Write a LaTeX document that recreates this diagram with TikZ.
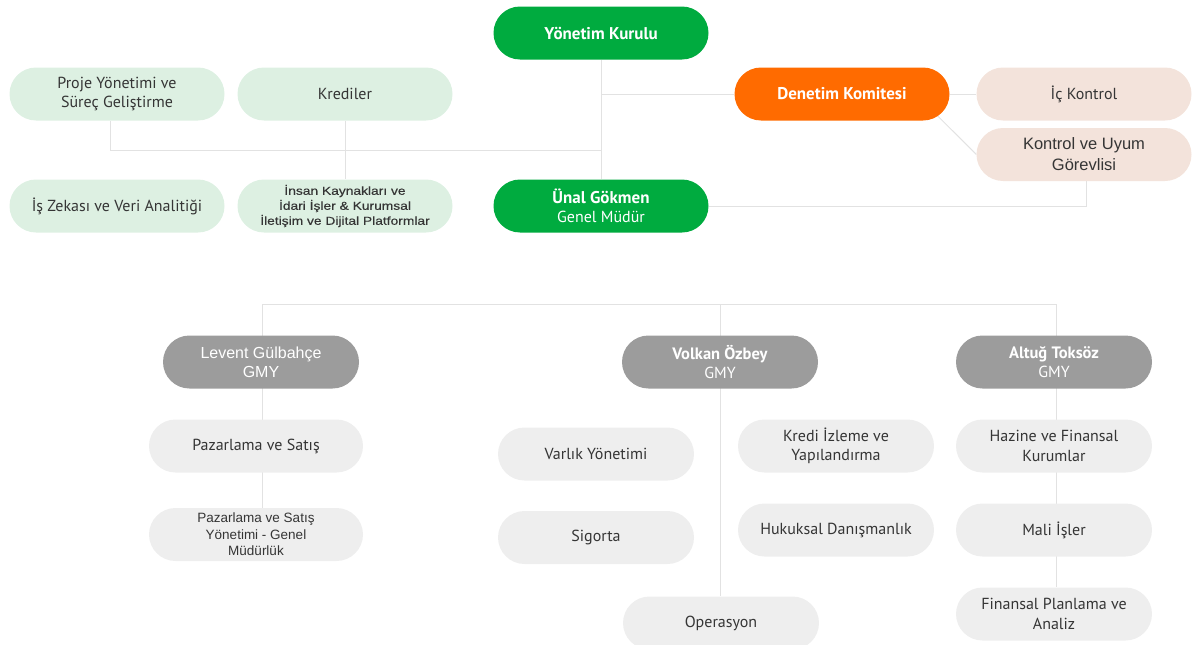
\documentclass[tikz,border=0pt]{standalone}
\usepackage{fontspec}
\setmainfont{PT Sans}
\newfontfamily\arialf{Liberation Sans}
\newfontfamily\arialw[FakeStretch=1.2,FakeBold=0.3]{Liberation Sans}
\usetikzlibrary{shapes.misc,backgrounds}
\definecolor{grn}{HTML}{00AB3F}
\definecolor{lgrn}{HTML}{DDF0E2}
\definecolor{org}{HTML}{FF6B00}
\definecolor{pch}{HTML}{F3E3DB}
\definecolor{dgry}{HTML}{9C9C9C}
\definecolor{lgry}{HTML}{EEEEEE}
\definecolor{lnc}{HTML}{E2E2E2}
\definecolor{txt}{HTML}{353535}
\begin{document}
\begin{tikzpicture}[x=1pt,y=-1pt,
  pill/.style={rounded rectangle, minimum height=53pt, minimum width=215pt, inner sep=0pt, align=center, text=txt, font=\fontsize{16}{19.5}\selectfont},
  pillS/.style={pill, minimum width=196pt, minimum height=53pt},
  green/.style={pill, fill=grn, text=white},
  lgreen/.style={pill, fill=lgrn},
  orange/.style={pill, fill=org, text=white, font=\fontsize{17}{19.5}\selectfont\bfseries},
  peach/.style={pill, fill=pch},
  dgray/.style={pillS, fill=dgry, text=white},
  lgray/.style={pillS, fill=lgry},
  conn/.style={draw=lnc, line width=1pt}
]
\clip (0,0) rectangle (1192,645);

% top part
\node[green, font=\fontsize{17}{19.5}\selectfont\bfseries] (yk) at (601,33) {Yönetim Kurulu};
\node[lgreen] (proje) at (117,94) {Proje Yönetimi ve\\Süreç Geliştirme};
\node[lgreen] (kred) at (345,94) {Krediler};
\node[orange] (den) at (842,94) {Denetim Komitesi};
\node[peach] (ick) at (1084,94) {İç Kontrol};
\node[peach, font=\arialf\fontsize{16.5}{21}\selectfont] (kuy) at (1084,154.5) {Kontrol ve Uyum\\Görevlisi};
\node[lgreen] (isz) at (117,206) {İş Zekası ve Veri Analitiği};
\node[lgreen, font=\arialw\fontsize{11.5}{15}\selectfont] (ik) at (345,206) {İnsan Kaynakları ve\\İdari İşler \& Kurumsal\\İletişim ve Dijital Platformlar};
\node[green] (unal) at (601,206) {{\fontsize{17}{19.5}\selectfont\bfseries Ünal Gökmen}\\Genel Müdür};

% lower part
\node[dgray, font=\arialf\fontsize{16}{19}\selectfont] (lev) at (261,362) {Levent Gülbahçe\\GMY};
\node[dgray] (vol) at (720,362) {{\fontsize{16.5}{19.5}\selectfont\bfseries Volkan Özbey}\\GMY};
\node[dgray] (alt) at (1054,362) {{\fontsize{16.5}{19.5}\selectfont\bfseries Altuğ Toksöz}\\GMY};
\node[lgray, minimum width=214pt] (paz) at (256,446) {Pazarlama ve Satış};
\node[lgray, minimum width=214pt, font=\arialf\fontsize{13.5}{16.5}\selectfont] (pazy) at (256,534.5) {Pazarlama ve Satış\\Yönetimi - Genel\\Müdürlük};
\node[lgray] (var) at (596,454) {Varlık Yönetimi};
\node[lgray] (sig) at (596,537.5) {Sigorta};
\node[lgray] (kiz) at (836,446) {Kredi İzleme ve\\Yapılandırma};
\node[lgray] (huk) at (836,530) {Hukuksal Danışmanlık};
\node[lgray] (ope) at (721,623) {Operasyon};
\node[lgray] (haz) at (1054,446) {Hazine ve Finansal\\Kurumlar};
\node[lgray] (mali) at (1054,530) {Mali İşler};
\node[lgray] (fin) at (1054,614) {Finansal Planlama ve\\Analiz};

\coordinate (j1) at (601,150);
\coordinate (j2L) at (262,304);
\coordinate (j2R) at (1056,304);

\begin{scope}[on background layer]
  \draw[conn] (yk.south) -- (unal.north);
  \draw[conn] (yk.south |- den.west) -- (den.west);
  \draw[conn] (den.east) -- (ick.west);
  \draw[conn] (den.-13) -- (kuy.west);
  \draw[conn] (unal.east) -| ([xshift=2pt]kuy.south);
  \draw[conn] ([xshift=-7pt]proje.south) |- (j1);
  \draw[conn] (kred.south) -- (ik.north);
  \draw[conn] (j2L) -- (j2R);
  \draw[conn] (j2L) -- (j2L |- pazy.north);
  \draw[conn] (j2L -| vol) -- (vol |- ope.north);
  \draw[conn] (j2R) -- (j2R |- fin.north);
\end{scope}
\end{tikzpicture}
\end{document}
